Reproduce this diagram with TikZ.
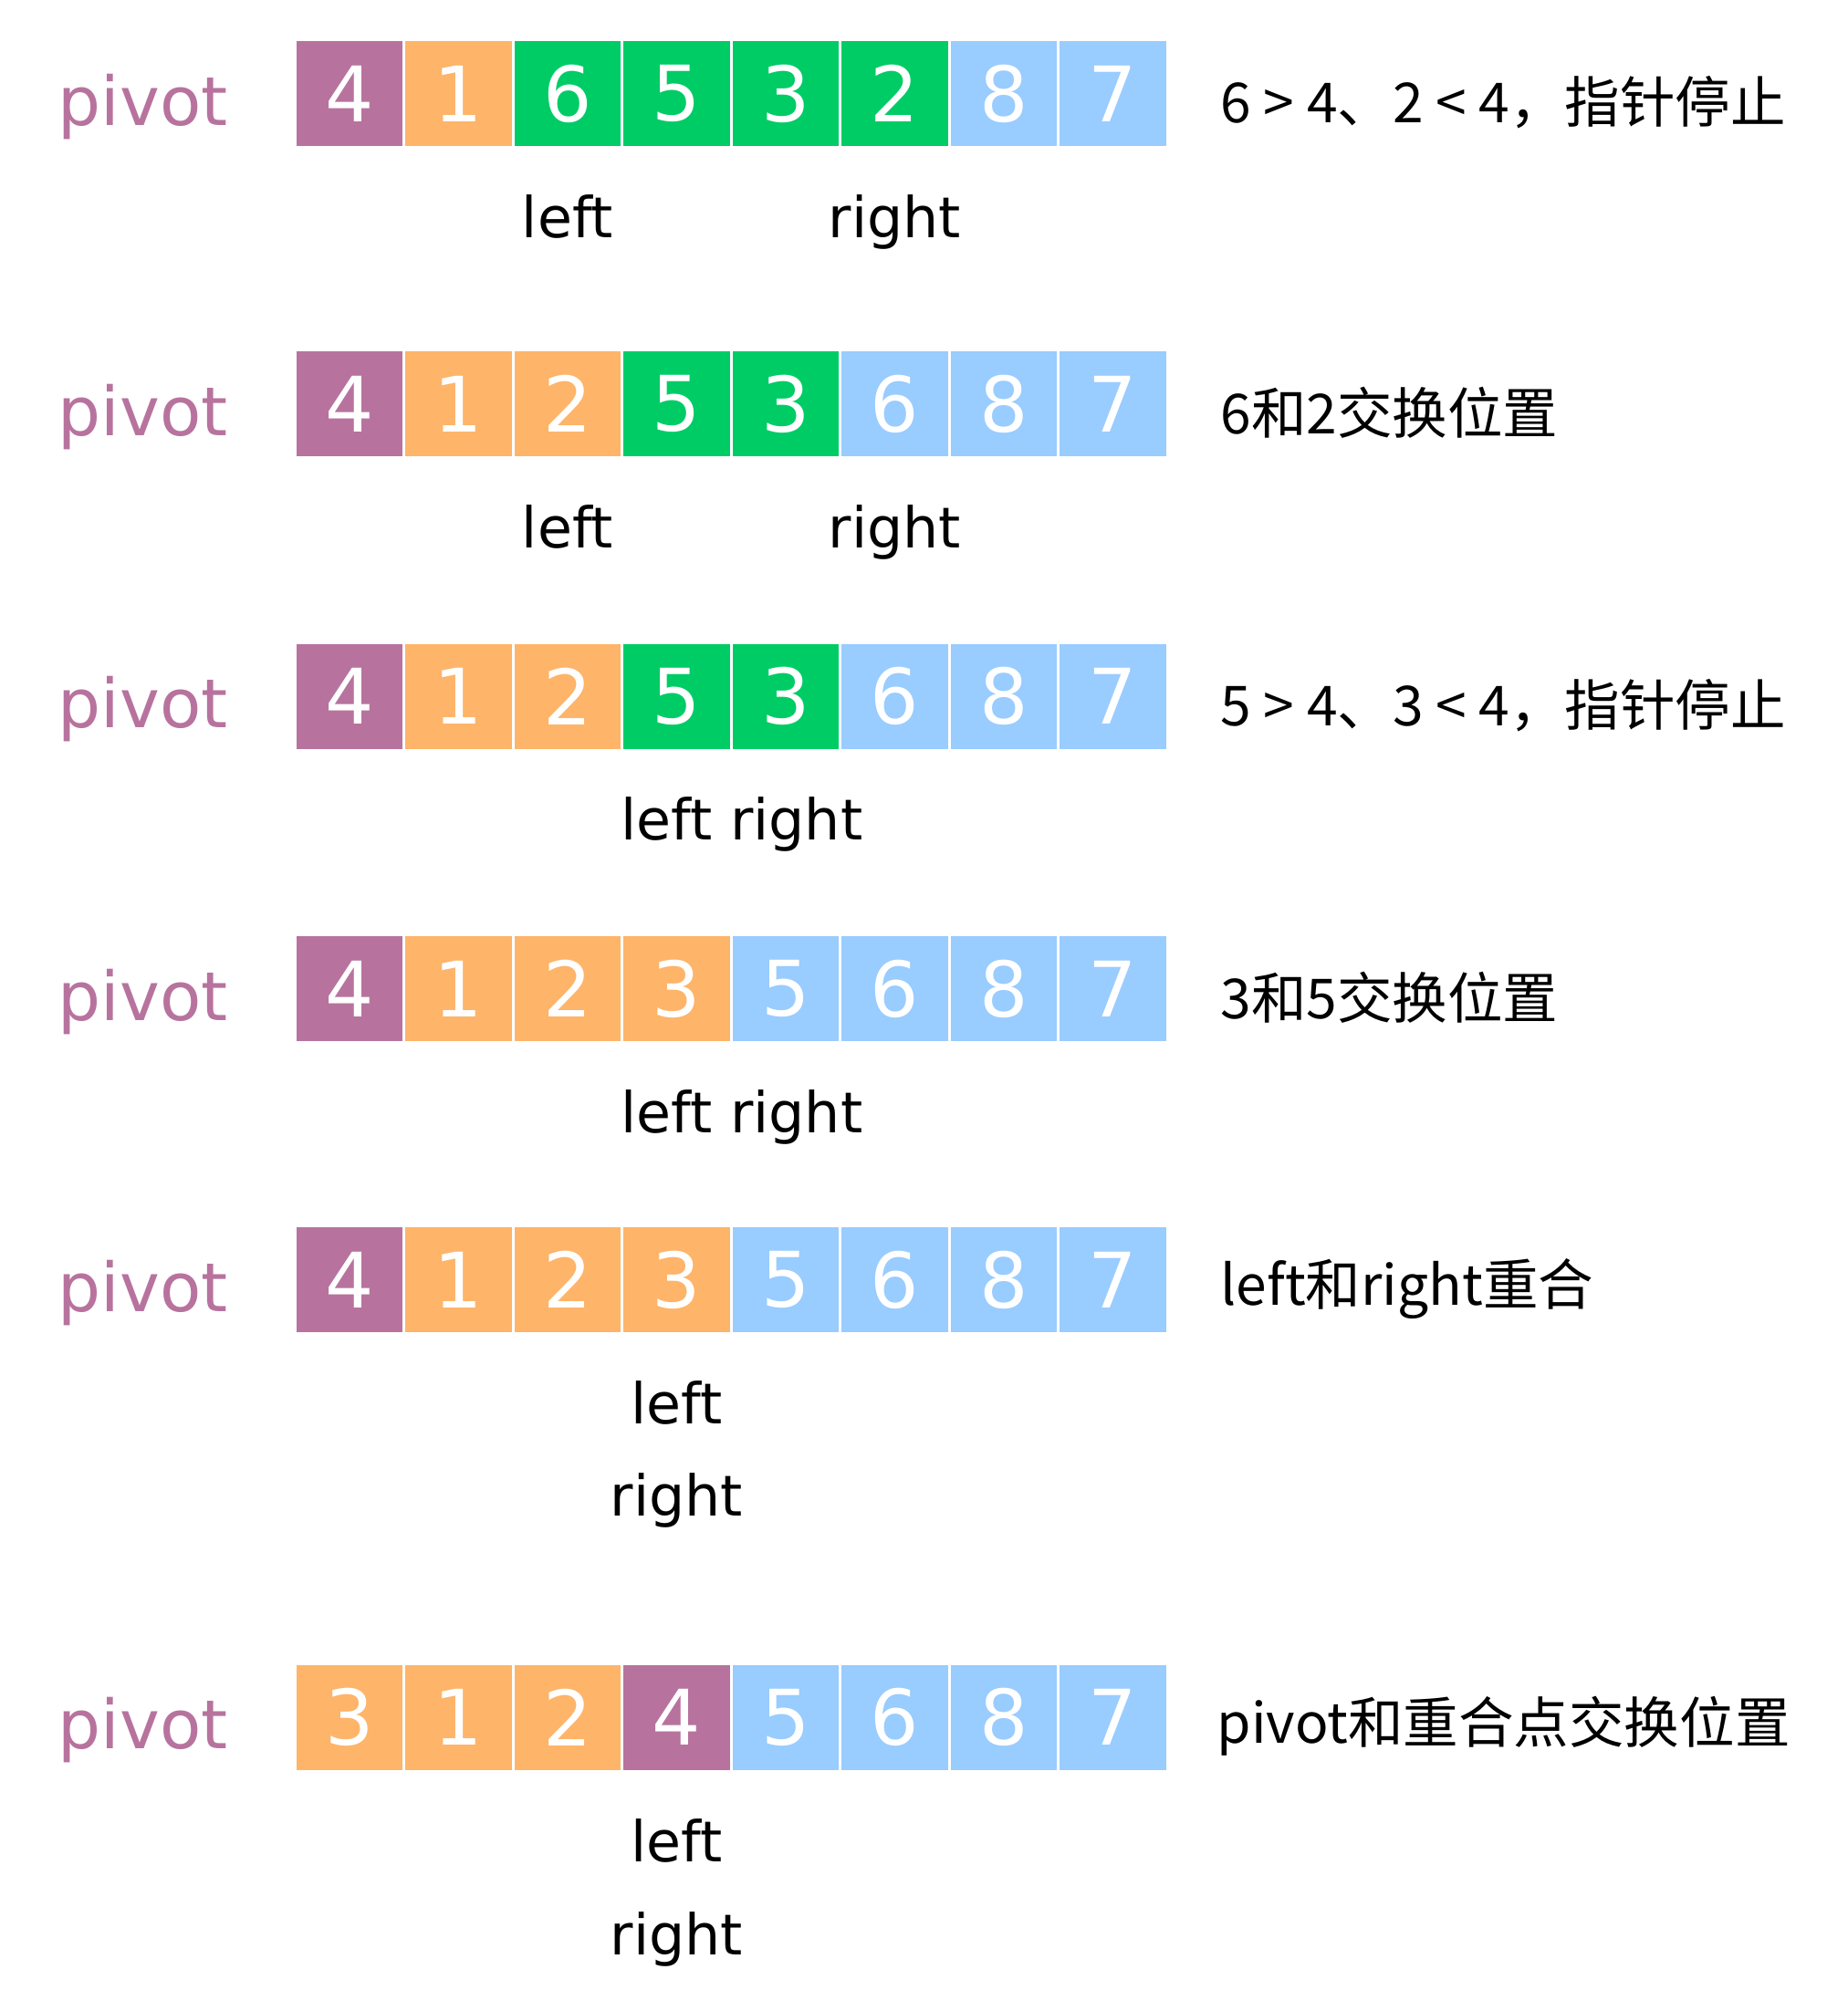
\documentclass[tikz,border=0pt]{standalone}
\usepackage{fontspec}
\setmainfont{DejaVu Sans}
\newfontfamily\cjk{Noto Sans CJK SC}
\usetikzlibrary{positioning}
\definecolor{pivotc}{HTML}{B7739E}
\definecolor{smallc}{HTML}{FEB469}
\definecolor{scanc}{HTML}{00CC66}
\definecolor{bigc}{HTML}{99CCFF}
\tikzset{
  cell/.style={minimum width=1.66cm, minimum height=1.64cm, inner sep=0pt,
    text=white, font=\fontsize{34}{34}\selectfont},
  pivotname/.style={anchor=west, inner sep=0pt, text=pivotc,
    font=\fontsize{30}{30}\selectfont},
  ptr/.style={anchor=base, inner sep=0pt, font=\fontsize{25}{25}\selectfont},
  note/.style={inner sep=0pt, yshift=-0.14cm, font=\cjk\fontsize{24.5}{24.5}\selectfont}
}

\begin{document}
\begin{tikzpicture}
  \useasboundingbox (0,0) rectangle (28.8,-31.36);

  % one row of cells per step
  \foreach \r/\y/\cells in {
      1/-1.46/{4/pivotc,1/smallc,6/scanc,5/scanc,3/scanc,2/scanc,8/bigc,7/bigc},
      2/-6.30/{4/pivotc,1/smallc,2/smallc,5/scanc,3/scanc,6/bigc,8/bigc,7/bigc},
      3/-10.86/{4/pivotc,1/smallc,2/smallc,5/scanc,3/scanc,6/bigc,8/bigc,7/bigc},
      4/-15.42/{4/pivotc,1/smallc,2/smallc,3/smallc,5/bigc,6/bigc,8/bigc,7/bigc},
      5/-19.96/{4/pivotc,1/smallc,2/smallc,3/smallc,5/bigc,6/bigc,8/bigc,7/bigc},
      6/-26.78/{3/smallc,1/smallc,2/smallc,4/pivotc,5/bigc,6/bigc,8/bigc,7/bigc}} {
    \node[pivotname] (p\r) at (0.9,\y-0.2) {pivot};
    \foreach \v/\c [count=\i] in \cells
      \node[cell, fill=\c] (r\r-\i) at ({5.45+1.7*(\i-1)},\y) {\v};
  }

  % pointers
  \node[ptr] (l1) at ([yshift=-2.24cm]r1-3) {left};
  \node[ptr] (g1) at ([yshift=-2.24cm]r1-6) {right};
  \node[ptr] (l2) at ([yshift=-2.24cm]r2-3) {left};
  \node[ptr] (g2) at ([yshift=-2.24cm]r2-6) {right};
  \node[ptr] (lg3) at ([xshift=0.18cm,yshift=-2.24cm]r3-4.east) {left right};
  \node[ptr] (lg4) at ([xshift=0.18cm,yshift=-2.24cm]r4-4.east) {left right};
  \node[ptr] (l5) at ([yshift=-2.24cm]r5-4) {left};
  \node[ptr] (g5) at ([yshift=-3.68cm]r5-4) {right};
  \node[ptr] (l6) at ([yshift=-2.26cm]r6-4) {left};
  \node[ptr] (g6) at ([yshift=-3.70cm]r6-4) {right};

  % notes
  \node[note, right=0.84cm of r1-8] (n1) {6 > 4、2 < 4，指针停止};
  \node[note, right=0.84cm of r2-8] (n2) {6和2交换位置};
  \node[note, right=0.84cm of r3-8] (n3) {5 > 4、3 < 4，指针停止};
  \node[note, right=0.84cm of r4-8] (n4) {3和5交换位置};
  \node[note, right=0.84cm of r5-8] (n5) {left和right重合};
  \node[note, right=0.78cm of r6-8] (n6) {pivot和重合点交换位置};
\end{tikzpicture}
\end{document}
